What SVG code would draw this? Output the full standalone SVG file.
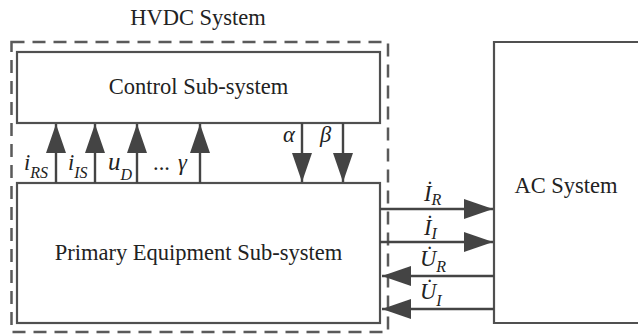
<svg xmlns="http://www.w3.org/2000/svg" width="638" height="336" viewBox="0 0 638 336">
<style>
.box{fill:#fff;stroke:#505050;stroke-width:2.2}
.dash{fill:none;stroke:#5a5a5a;stroke-width:2.5;stroke-dasharray:13 8}
text{font-family:'Liberation Serif','Tinos','DejaVu Serif',serif;font-size:22.5px;fill:#222}
.i{font-style:italic}
.s{font-size:16px}
.c{stroke:#444;stroke-width:2.4;fill:none}
</style>
<defs>
<marker id="ah" markerUnits="userSpaceOnUse" markerWidth="29" markerHeight="20" refX="29" refY="10" orient="auto">
<path d="M0,0 L29,10 L0,20 z" fill="#444"/>
</marker>
</defs>
<rect width="638" height="336" fill="#fff"/>
<g id="hvdc">
<rect class="dash" x="11.5" y="42" width="376.5" height="290"/>
<text x="198" y="25" text-anchor="middle">HVDC System</text>
</g>
<g id="control">
<rect class="box" x="17" y="52" width="363" height="71"/>
<text x="198.5" y="94" text-anchor="middle">Control Sub-system</text>
</g>
<g id="primary">
<rect class="box" x="17" y="183" width="363" height="140"/>
<text x="198.5" y="260" text-anchor="middle">Primary Equipment Sub-system</text>
</g>
<g id="ac">
<path class="box" d="M640,42 H494 V323 H640"/>
<text x="566" y="193" text-anchor="middle">AC System</text>
</g>
<g id="connectors">
<line class="c" x1="56" y1="183" x2="56" y2="124" marker-end="url(#ah)"/>
<line class="c" x1="95" y1="183" x2="95" y2="124" marker-end="url(#ah)"/>
<line class="c" x1="137" y1="183" x2="137" y2="124" marker-end="url(#ah)"/>
<line class="c" x1="200" y1="183" x2="200" y2="124" marker-end="url(#ah)"/>
<line class="c" x1="302" y1="123" x2="302" y2="182" marker-end="url(#ah)"/>
<line class="c" x1="343" y1="123" x2="343" y2="182" marker-end="url(#ah)"/>
<line class="c" x1="380" y1="209" x2="493" y2="209" marker-end="url(#ah)"/>
<line class="c" x1="380" y1="242" x2="493" y2="242" marker-end="url(#ah)"/>
<line class="c" x1="494" y1="276" x2="382" y2="276" marker-end="url(#ah)"/>
<line class="c" x1="494" y1="309" x2="382" y2="309" marker-end="url(#ah)"/>
</g>
<g id="labels">
<text class="i" x="24" y="170">i<tspan class="s" dy="8">RS</tspan></text>
<text class="i" x="68" y="170">i<tspan class="s" dy="8">IS</tspan></text>
<text class="i" x="108" y="170" style="font-size:25px">u<tspan class="s" dy="10">D</tspan></text>
<text x="153" y="170">...</text>
<text class="i" x="178" y="170">γ</text>
<text class="i" x="283" y="142">α</text>
<text class="i" x="320" y="142">β</text>
<text class="i" x="424" y="201">İ<tspan class="s" dy="4">R</tspan></text>
<text class="i" x="424" y="235">İ<tspan class="s" dy="4">I</tspan></text>
<text class="i" x="420" y="266">U̇<tspan class="s" dy="6">R</tspan></text>
<text class="i" x="420" y="299">U̇<tspan class="s" dy="7">I</tspan></text>
</g>
</svg>
